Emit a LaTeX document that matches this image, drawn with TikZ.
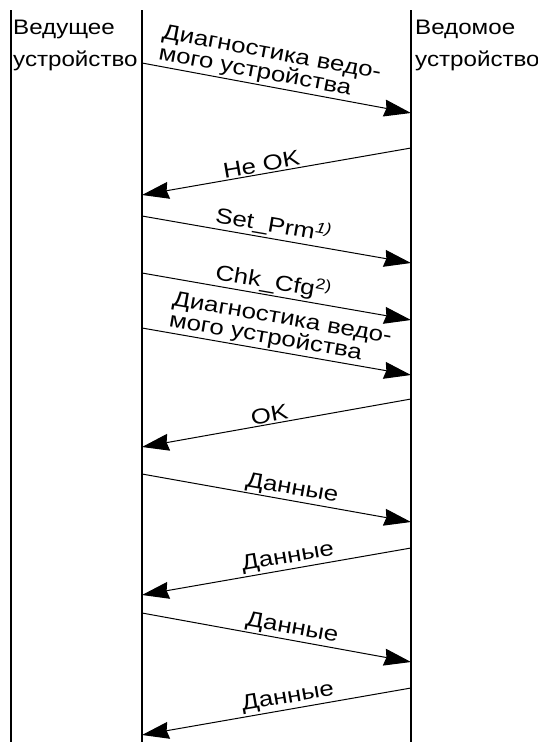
\documentclass[tikz,border=0pt]{standalone}
\usepackage{fontspec}
\setmainfont[FakeStretch=1.15]{Liberation Sans}
\newfontfamily\lblfont[FakeStretch=1.2]{Liberation Sans}
\usetikzlibrary{arrows.meta}

\tikzset{
  lifeline/.style={line width=1.8pt},
  msg/.style={line width=1pt, -{Stealth[length=27pt,width=17pt,inset=2pt]}},
  lbl/.style={sloped, above, inner sep=1.5pt, align=left, font=\lblfont\fontsize{21.5}{19}\selectfont},
  head/.style={anchor=north west, inner sep=0pt, align=left, font=\fontsize{21}{31.5}\selectfont}
}

\begin{document}
\begin{tikzpicture}[x=1pt, y=-1pt]
  \useasboundingbox (0,0) rectangle (538,742);

  % the three lifelines
  \coordinate (L top) at (11,10);   \coordinate (L bot) at (11,742);
  \coordinate (M top) at (142,10);  \coordinate (M bot) at (142,742);
  \coordinate (S top) at (411,10);  \coordinate (S bot) at (411,742);
  \draw[lifeline] (L top) -- (L bot);
  \draw[lifeline] (M top) -- (M bot);
  \draw[lifeline] (S top) -- (S bot);

  \node[head] (master) at (13,20) {Ведущее\\устройство};
  \node[head] (slave) at (415,20) {Ведомое\\устройство};

  % end points of the messages
  \coordinate (m1) at (142,63);   \coordinate (s1) at (411,113);
  \coordinate (s2) at (411,148);  \coordinate (m2) at (142,195);
  \coordinate (m3) at (142,216);  \coordinate (s3) at (411,263);
  \coordinate (m4) at (142,273);  \coordinate (s4) at (411,320);
  \coordinate (m5) at (142,328);  \coordinate (s5) at (411,375);
  \coordinate (s6) at (411,399);  \coordinate (m6) at (142,447);
  \coordinate (m7) at (142,474);  \coordinate (s7) at (411,522);
  \coordinate (s8) at (411,548);  \coordinate (m8) at (142,595);
  \coordinate (m9) at (142,613);  \coordinate (s9) at (411,662);
  \coordinate (s10) at (411,688); \coordinate (m10) at (142,735);

  % messages
  \draw[msg] (m1) -- node[lbl, pos=0.46] (diag1) {Диагностика ведо-\\мого устройства} (s1);
  \draw[msg] (s2) -- node[lbl, pos=0.55] (nok) {Не OK} (m2);
  \draw[msg] (m3) -- node[lbl, pos=0.48] (prm) {Set\_Prm\textsuperscript{\itshape 1)}} (s3);
  \draw[msg] (m4) -- node[lbl, pos=0.48] (cfg) {Chk\_Cfg\textsuperscript{2)}} (s4);
  \draw[msg] (m5) -- node[lbl, pos=0.5] (diag2) {Диагностика ведо-\\мого устройства} (s5);
  \draw[msg] (s6) -- node[lbl, pos=0.52] (ok) {OK} (m6);
  \draw[msg] (m7) -- node[lbl, pos=0.55] (data1) {Данные} (s7);
  \draw[msg] (s8) -- node[lbl, pos=0.45] (data2) {Данные} (m8);
  \draw[msg] (m9) -- node[lbl, pos=0.55] (data3) {Данные} (s9);
  \draw[msg] (s10) -- node[lbl, pos=0.45] (data4) {Данные} (m10);
\end{tikzpicture}
\end{document}
